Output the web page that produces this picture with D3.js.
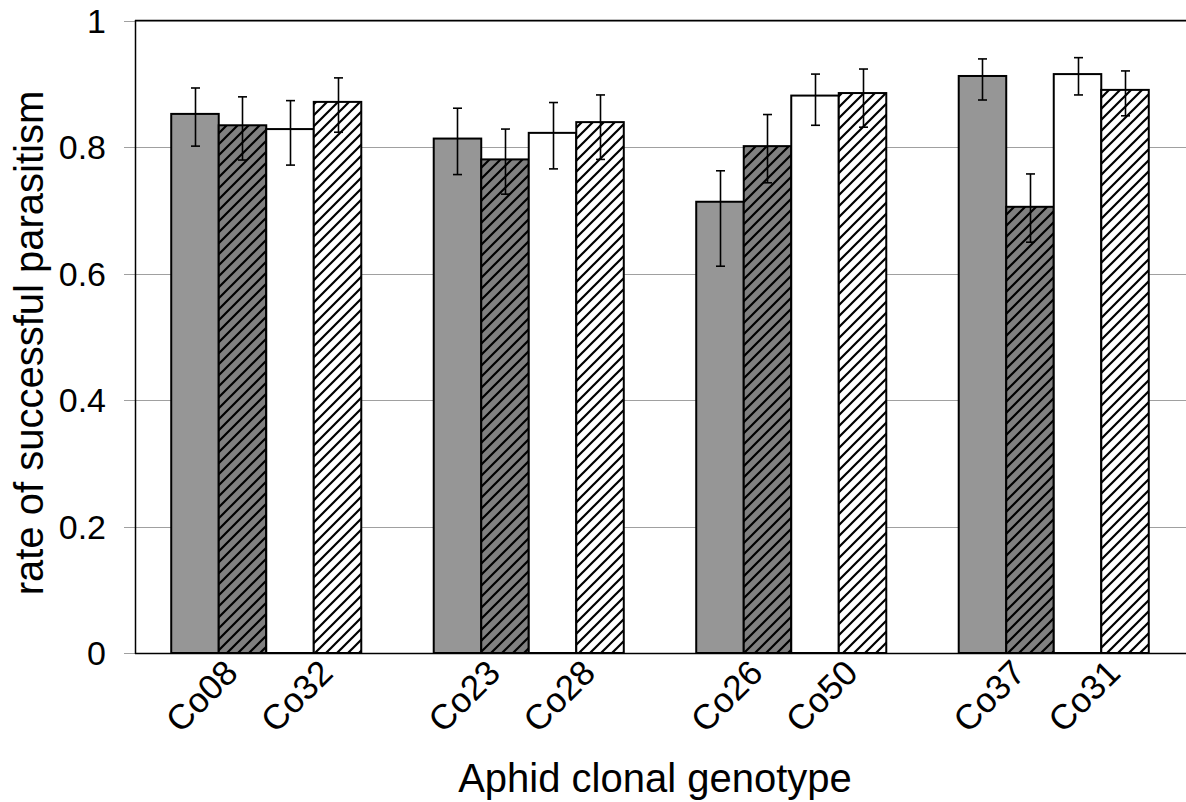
<!DOCTYPE html>
<html><head><meta charset="utf-8">
<script src="https://cdn.jsdelivr.net/npm/d3@7/dist/d3.min.js"></script>
<style>body{margin:0;background:#fff;} text{font-family:"Liberation Sans",Arial,sans-serif;}</style>
</head><body>
<svg id="chart" width="1186" height="802"></svg>
<script>
// Clones (two per group); first clone of each group drawn gray, second white
const clones = ["Co08","Co32","Co23","Co28","Co26","Co50","Co37","Co31"];
const groups = ["G1","G2","G3","G4"];
const treatments = ["plain","hatched"];
// mean rate of successful parasitism
const plainMean   = [0.853, 0.829, 0.814, 0.823, 0.714, 0.882, 0.913, 0.916];
const hatchedMean = [0.835, 0.872, 0.781, 0.840, 0.802, 0.886, 0.706, 0.891];
// error bar limits
const plainLow    = [0.802, 0.772, 0.757, 0.766, 0.612, 0.835, 0.875, 0.883];
const plainHigh   = [0.894, 0.874, 0.862, 0.871, 0.763, 0.916, 0.940, 0.942];
const hatchedLow  = [0.780, 0.824, 0.726, 0.781, 0.744, 0.832, 0.650, 0.850];
const hatchedHigh = [0.880, 0.910, 0.829, 0.883, 0.852, 0.924, 0.758, 0.921];
const yTicks = [0, 0.2, 0.4, 0.6, 0.8, 1];
const yTickLabels = ["0","0.2","0.4","0.6","0.8","1"];

const svg = d3.select("#chart");
const L = 135, R = 1185, T = 21, B = 653;

const x0 = d3.scaleBand().domain(groups).range([L, R]).paddingInner(0.276).paddingOuter(0.138);
const xClone = d3.scaleBand().domain([0,1]).range([0, x0.bandwidth()]);
const xTreat = d3.scaleBand().domain(treatments).range([0, xClone.bandwidth()]);
const y = d3.scaleLinear().domain([0,1]).range([B, T]);

const defs = svg.append("defs");
function hatch(id, bg){
  const p = defs.append("pattern").attr("id", id).attr("patternUnits","userSpaceOnUse")
    .attr("width", 11).attr("height", 11);
  p.append("rect").attr("width",11).attr("height",11).attr("fill",bg);
  p.append("path").attr("d","M-3,3 L3,-3 M0,11 L11,0 M8,14 L14,8")
    .attr("stroke","#000").attr("stroke-width",2.2);
}
hatch("hDark", "#808080");
hatch("hWhite", "#ffffff");

// gridlines (incl. outward ticks)
svg.append("g").selectAll("line").data(yTicks).join("line")
  .attr("x1", L-11).attr("x2", R+1)
  .attr("y1", d => Math.round(y(d))+0.5).attr("y2", d => Math.round(y(d))+0.5)
  .attr("stroke", "#a0a0a0").attr("stroke-width", 1);

// y tick labels
svg.append("g").selectAll("text").data(yTicks).join("text")
  .attr("x", 106).attr("y", d => y(d)+12)
  .attr("text-anchor","end").attr("font-size", 34).attr("fill","#000")
  .text((d,i) => yTickLabels[i]);

// bars
const rows = [];
clones.forEach((c,i) => {
  const g = groups[Math.floor(i/2)], k = i % 2;
  rows.push({c, g, k, t:"plain", v: plainMean[i], lo: plainLow[i], hi: plainHigh[i]});
  rows.push({c, g, k, t:"hatched", v: hatchedMean[i], lo: hatchedLow[i], hi: hatchedHigh[i]});
});
const fillOf = d => d.k === 0 ? (d.t === "plain" ? "#969696" : "url(#hDark)") : (d.t === "plain" ? "#ffffff" : "url(#hWhite)");
const bx = d => x0(d.g) + xClone(d.k) + xTreat(d.t);

svg.append("g").selectAll("rect").data(rows).join("rect")
  .attr("x", d => bx(d)).attr("y", d => y(d.v))
  .attr("width", xTreat.bandwidth()).attr("height", d => B - y(d.v))
  .attr("fill", fillOf).attr("stroke", "#000").attr("stroke-width", 2);

// error bars
const eg = svg.append("g").attr("stroke","#000").attr("stroke-width",1.6);
rows.forEach(d => {
  const cx = Math.round(bx(d) + xTreat.bandwidth()/2) + 0.5;
  eg.append("line").attr("x1",cx).attr("x2",cx).attr("y1",y(d.lo)).attr("y2",y(d.hi));
  eg.append("line").attr("x1",cx-4.5).attr("x2",cx+4.5).attr("y1",y(d.lo)).attr("y2",y(d.lo));
  eg.append("line").attr("x1",cx-4.5).attr("x2",cx+4.5).attr("y1",y(d.hi)).attr("y2",y(d.hi));
});

// axis frame
svg.append("line").attr("x1",L+0.5).attr("x2",L+0.5).attr("y1",T-1).attr("y2",B+1).attr("stroke","#000").attr("stroke-width",1.5);
svg.append("line").attr("x1",L).attr("x2",1186).attr("y1",T-0.5).attr("y2",T-0.5).attr("stroke","#000").attr("stroke-width",1.5);
svg.append("line").attr("x1",L).attr("x2",1186).attr("y1",B+0.5).attr("y2",B+0.5).attr("stroke","#000").attr("stroke-width",1.5);

// x clone labels
svg.append("g").selectAll("text").data(clones).join("text")
  .attr("transform", (c,i) => {
    const g = groups[Math.floor(i/2)], k = i % 2;
    const xc = x0(g) + xClone(k) + xClone.bandwidth()/2;
    return `translate(${xc+21},${B+22}) rotate(-45)`;
  })
  .attr("text-anchor","end").attr("font-size", 35).attr("fill","#000")
  .text(c => c);

// axis titles
svg.append("text").attr("x", 655).attr("y", 792).attr("text-anchor","middle")
  .attr("font-size", 40).text("Aphid clonal genotype");
svg.append("text").attr("transform","translate(43,343) rotate(-90)").attr("text-anchor","middle")
  .attr("font-size", 40).text("rate of successful parasitism");
</script>
</body></html>
